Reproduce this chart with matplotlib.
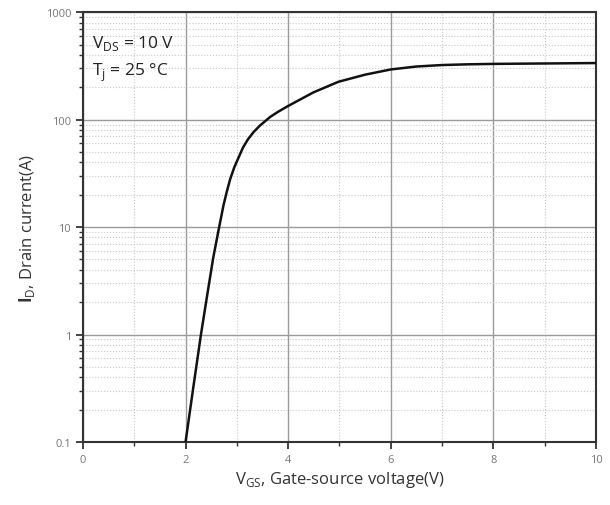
import numpy as np
import matplotlib.pyplot as plt
from matplotlib.ticker import LogLocator, FixedLocator, NullFormatter

# transfer characteristic
vgs = [2.0, 2.15, 2.30, 2.42, 2.54, 2.64, 2.74, 2.80, 2.87, 2.95, 3.03, 3.12, 3.22,
       3.33, 3.45, 3.65, 3.8, 4.0, 4.49, 4.98, 5.5, 6.0, 6.5, 7.0, 7.5, 8.0, 9.0, 10.0]
id_a = [0.1, 0.32, 1.0, 2.3, 5.2, 9.2, 16, 21, 28, 36, 44, 55, 66,
        77, 88, 106, 118, 134, 179, 225, 262, 293, 312, 322, 327, 330, 333, 336]

xticks = [0, 2, 4, 6, 8, 10]
yticks = [0.1, 1, 10, 100, 1000]
ytick_labels = ["0.1", "1", "10", "100", "1000"]

plt.rcParams['font.family'] = ['Open Sans', 'DejaVu Sans']
plt.rcParams['mathtext.fontset'] = 'custom'
plt.rcParams['mathtext.rm'] = 'Open Sans'
plt.rcParams['mathtext.bf'] = 'Open Sans:bold'

fig = plt.figure(figsize=(6.1, 5.06), dpi=100)
ax = fig.add_axes([0.136, 0.1245, 0.841, 0.8495])

ax.plot(vgs, id_a, color='#111111', lw=1.8, zorder=3)

ax.set_yscale('log')
ax.set_xlim(0, 10)
ax.set_ylim(0.1, 1000)
ax.set_xticks(xticks)
ax.set_xticklabels([str(t) for t in xticks])
ax.xaxis.set_minor_locator(FixedLocator([1, 3, 5, 7, 9]))
ax.set_yticks(yticks)
ax.set_yticklabels(ytick_labels)
ax.yaxis.set_minor_locator(LogLocator(base=10, subs=np.arange(2, 10)))
ax.yaxis.set_minor_formatter(NullFormatter())

ax.grid(which='major', color='#9a9a9a', lw=1.0)
ax.grid(which='minor', color='#c8c8c8', lw=0.8, ls=':')

for s in ax.spines.values():
    s.set_linewidth(1.5)
    s.set_color('#333333')
ax.tick_params(which='major', direction='out', length=5, width=1.3,
               labelsize=8, labelcolor='#777777', color='#333333')
ax.tick_params(which='minor', direction='out', length=3, width=1.0, color='#333333')

ax.set_xlabel(r"V$_{\mathrm{GS}}$, Gate-source voltage(V)", fontsize=12, color='#333333', labelpad=3)
ax.set_ylabel(r"$\mathbf{I}_{\mathrm{D}}$, Drain current(A)", fontsize=12, color='#333333', labelpad=6)

ax.text(0.018, 0.93, r"V$_{\mathrm{DS}}$ = 10 V", transform=ax.transAxes, fontsize=12.5,
        color='#222222', va='center')
ax.text(0.018, 0.86, r"T$_{\mathrm{j}}$ = 25 °C", transform=ax.transAxes, fontsize=12.5,
        color='#222222', va='center')

fig.savefig("out.png", dpi=100)
